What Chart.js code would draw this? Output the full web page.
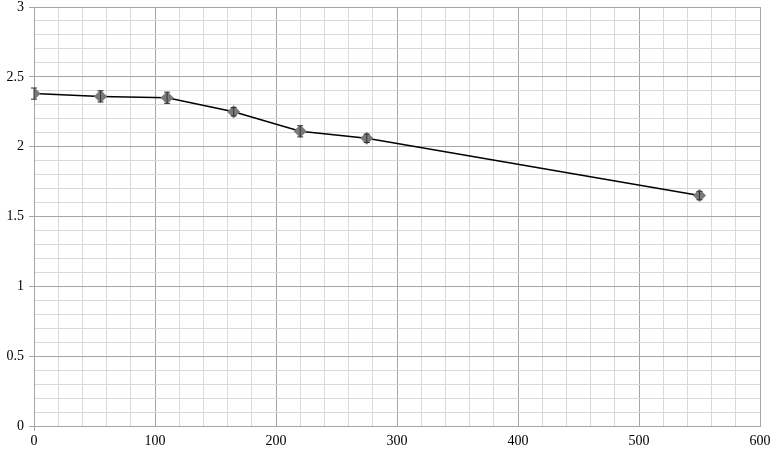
<!DOCTYPE html>
<html><head><meta charset="utf-8">
<script src="https://cdn.jsdelivr.net/npm/chart.js@4/dist/chart.umd.min.js"></script>
<style>html,body{margin:0;padding:0;background:#fff}#wrap{width:770px;height:451px}</style>
</head><body><div id="wrap"><canvas id="c" width="770" height="451"></canvas></div>
<script>
const xValues = [0, 55, 110, 165, 220, 275, 550];
const yValues = [2.38, 2.36, 2.35, 2.25, 2.11, 2.06, 1.65];
const yErrors = [0.04, 0.04, 0.04, 0.03, 0.04, 0.03, 0.03];
const xTickLabels = ['0','100','200','300','400','500','600'];
const yTickLabels = ['0','0.5','1','1.5','2','2.5','3'];

const points = xValues.map((x, i) => ({x: x, y: yValues[i]}));

const errorBars = {
  id: 'errorBars',
  afterDatasetsDraw(chart) {
    const ctx = chart.ctx, xs = chart.scales.x, ys = chart.scales.y;
    ctx.save();
    ctx.strokeStyle = '#333';
    ctx.lineWidth = 1;
    xValues.forEach((x, i) => {
      const px = xs.getPixelForValue(x);
      const top = ys.getPixelForValue(yValues[i] + yErrors[i]);
      const bot = ys.getPixelForValue(yValues[i] - yErrors[i]);
      ctx.beginPath();
      ctx.moveTo(px, top); ctx.lineTo(px, bot);
      ctx.moveTo(px - 3, top); ctx.lineTo(px + 3, top);
      ctx.moveTo(px - 3, bot); ctx.lineTo(px + 3, bot);
      ctx.stroke();
    });
    ctx.restore();
  }
};

const font = {family: '"Liberation Serif", "DejaVu Serif", serif', size: 14};

new Chart(document.getElementById('c'), {
  type: 'scatter',
  data: {datasets: [{
    data: points,
    showLine: true,
    borderColor: '#000',
    borderWidth: 1.5,
    pointStyle: 'rectRot',
    pointRadius: 5.5,
    pointBackgroundColor: '#7a7a7a',
    pointBorderColor: '#7a7a7a',
    tension: 0
  }]},
  options: {
    responsive: false,
    animation: false,
    layout: {padding: 0},
    plugins: {legend: {display: false}, tooltip: {enabled: false}},
    scales: {
      x: {
        type: 'linear', min: 0, max: 600,
        afterFit(s) { s.height = 25; s.paddingRight = 10; s.paddingLeft = 0; },
        ticks: {
          stepSize: 20, autoSkip: false, maxRotation: 0, color: '#000', font: font, padding: 2,
          callback(v) { const r = Math.round(v); return r % 100 === 0 ? xTickLabels[r / 100] : ''; }
        },
        grid: {
          color(c) { return Math.round(c.tick.value) % 100 === 0 ? '#a6a6a6' : '#d9d9d9'; },
          tickLength: 5, drawTicks: true,
          tickColor(c) { return Math.round(c.tick.value) === 0 ? '#a6a6a6' : 'rgba(0,0,0,0)'; }
        },
        border: {color: '#a6a6a6'}
      },
      y: {
        type: 'linear', min: 0, max: 3,
        afterFit(s) { s.width = 34; s.paddingTop = 5; s.paddingBottom = 0; },
        ticks: {
          stepSize: 0.1, autoSkip: false, color: '#000', font: font, padding: 5,
          callback(v) { const r = Math.round(v * 10); return r % 5 === 0 ? yTickLabels[r / 5] : ''; }
        },
        grid: {
          color(c) { return Math.round(c.tick.value * 10) % 5 === 0 ? '#a6a6a6' : '#d9d9d9'; },
          tickLength: 5,
          tickColor(c) { return Math.round(c.tick.value * 10) % 5 === 0 ? '#a6a6a6' : 'rgba(0,0,0,0)'; }
        },
        border: {color: '#a6a6a6'}
      }
    }
  },
  plugins: [errorBars]
});
</script>
</body></html>
